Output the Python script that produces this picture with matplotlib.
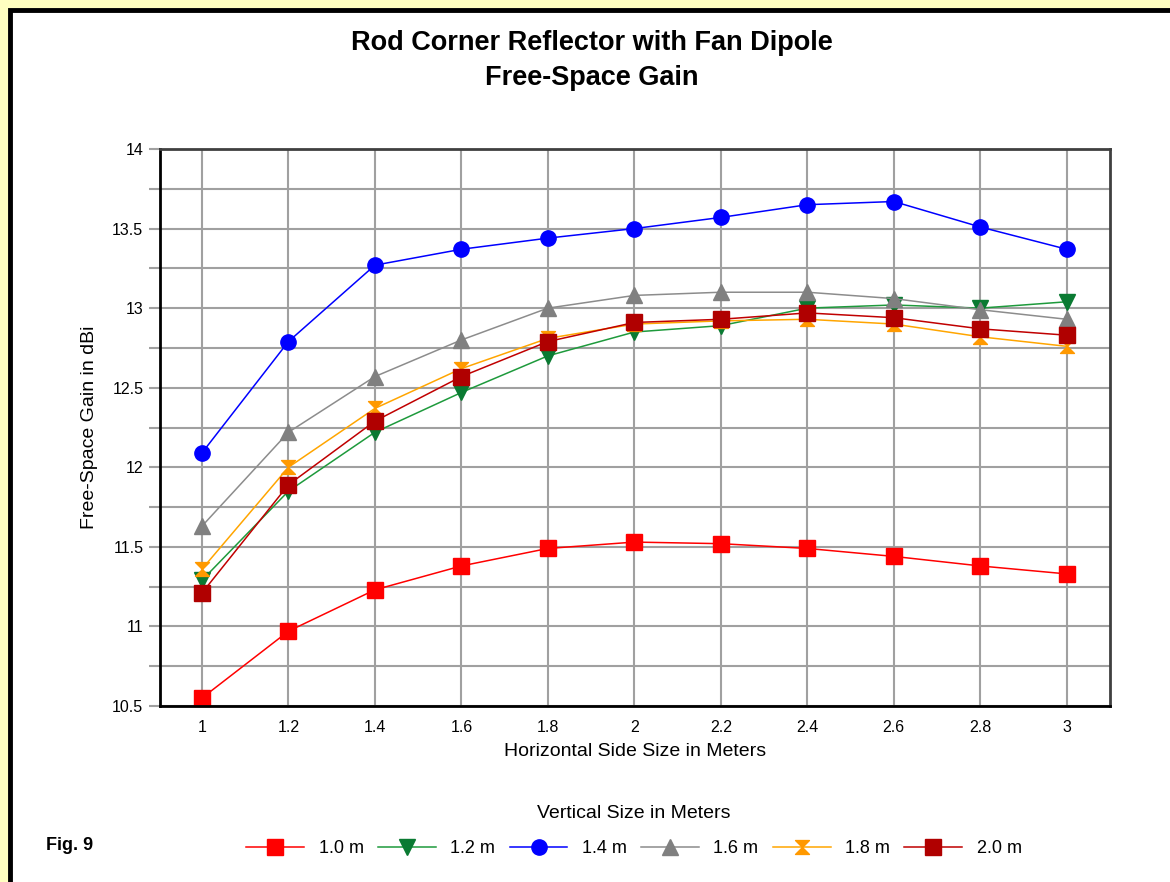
import numpy as np
import matplotlib
matplotlib.use("Agg")
import matplotlib.pyplot as plt
from matplotlib.path import Path
from matplotlib.patches import Rectangle

plt.rcParams['font.family'] = ['Liberation Sans', 'DejaVu Sans']

# Horizontal side size (m)
sizes = [1.0, 1.2, 1.4, 1.6, 1.8, 2.0, 2.2, 2.4, 2.6, 2.8, 3.0]

# Free-space gain (dBi) for each vertical size
gain_10 = [10.55, 10.97, 11.23, 11.38, 11.49, 11.53, 11.52, 11.49, 11.44, 11.38, 11.33]
gain_12 = [11.29, 11.85, 12.22, 12.47, 12.70, 12.85, 12.89, 13.00, 13.02, 13.00, 13.04]
gain_14 = [12.09, 12.79, 13.27, 13.37, 13.44, 13.50, 13.57, 13.65, 13.67, 13.51, 13.37]
gain_16 = [11.63, 12.22, 12.57, 12.80, 13.00, 13.08, 13.10, 13.10, 13.06, 12.99, 12.93]
gain_18 = [11.36, 12.00, 12.37, 12.62, 12.81, 12.90, 12.92, 12.93, 12.90, 12.82, 12.76]
gain_20 = [11.21, 11.89, 12.29, 12.57, 12.79, 12.91, 12.93, 12.97, 12.94, 12.87, 12.83]

labels = ["1.0 m", "1.2 m", "1.4 m", "1.6 m", "1.8 m", "2.0 m"]

# hourglass marker for the 1.8 m series
hourglass = Path([(-1, 1), (1, 1), (0, 0), (1, -1), (-1, -1), (0, 0), (-1, 1)],
                 [Path.MOVETO] + [Path.LINETO] * 5 + [Path.CLOSEPOLY])

styles = [
    dict(color="#FF0000", marker="s", mfc="#FF0000", mec="#FF0000", ms=12),
    dict(color="#1E9A3C", marker="v", mfc="#0A7A32", mec="#0A7A32", ms=12),
    dict(color="#0000FF", marker="o", mfc="#0000FF", mec="#0000FF", ms=11),
    dict(color="#8C8C8C", marker="^", mfc="#808080", mec="#808080", ms=12),
    dict(color="#FFA500", marker=hourglass, mfc="#FF9900", mec="#FF9900", ms=10),
    dict(color="#C00000", marker="s", mfc="#B00000", mec="#B00000", ms=12),
]

fig = plt.figure(figsize=(11.7, 8.82), dpi=100)
fig.patch.set_facecolor("#FFFFC0")
# white panel with black frame
fig.add_artist(Rectangle((9.5 / 1170, -0.05), 1.2, 1 - 9.5 / 882 + 0.05,
                         transform=fig.transFigure, facecolor="white",
                         edgecolor="black", linewidth=3.5, zorder=0))

ax = fig.add_axes([160 / 1170, 1 - 706 / 882, 950 / 1170, 557 / 882])
ax.set_facecolor("white")

for vals, lab, st in zip([gain_10, gain_12, gain_14, gain_16, gain_18, gain_20], labels, styles):
    ax.plot(sizes, vals, linewidth=1.1, label=lab, clip_on=False, **st)

ax.set_xlim(0.903, 3.1)
ax.set_ylim(10.5, 14)
ax.set_xticks(sizes)
ax.set_xticklabels(["1", "1.2", "1.4", "1.6", "1.8", "2", "2.2", "2.4", "2.6", "2.8", "3"])
ax.set_yticks(np.arange(10.5, 14.01, 0.5))
ax.set_yticklabels(["10.5", "11", "11.5", "12", "12.5", "13", "13.5", "14"])
ax.set_yticks(np.arange(10.75, 14, 0.5), minor=True)
ax.grid(True, which="both", color="#A0A0A0", linewidth=1.5)
ax.set_axisbelow(True)
ax.tick_params(axis="both", which="both", color="#A0A0A0", length=8, width=1.5,
               labelsize=11.5, pad=4)
ax.tick_params(axis="x", length=0, pad=10)

ax.spines["left"].set_color("black")
ax.spines["left"].set_linewidth(2)
ax.spines["bottom"].set_color("black")
ax.spines["bottom"].set_linewidth(2)
ax.spines["top"].set_color("#404040")
ax.spines["top"].set_linewidth(2)
ax.spines["right"].set_color("#404040")
ax.spines["right"].set_linewidth(2)

ax.set_xlabel("Horizontal Side Size in Meters", fontsize=14, labelpad=6)
ax.set_ylabel("Free-Space Gain in dBi", fontsize=14, labelpad=10)

fig.text(592 / 1170, 1 - 43 / 882, "Rod Corner Reflector with Fan Dipole",
         ha="center", va="center", fontsize=19.5, fontweight="bold")
fig.text(592 / 1170, 1 - 78 / 882, "Free-Space Gain",
         ha="center", va="center", fontsize=19.5, fontweight="bold")

fig.text(70 / 1170, 1 - 846 / 882, "Fig. 9", ha="center", va="center",
         fontsize=13, fontweight="bold")

leg = fig.legend(loc="upper center", bbox_to_anchor=(634 / 1170, 1 - 798 / 882),
                 ncol=6, frameon=False, fontsize=13, title="Vertical Size in Meters",
                 title_fontsize=14, handlelength=3.2, columnspacing=0.8,
                 handletextpad=0.8, borderaxespad=0)
leg._legend_box.sep = 13

fig.savefig("out.png", dpi=100, facecolor=fig.get_facecolor())
